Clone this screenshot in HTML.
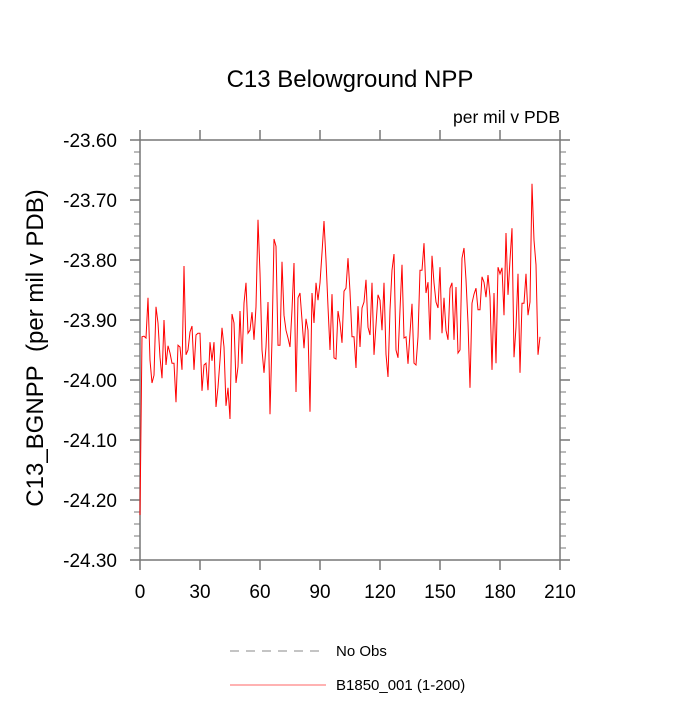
<!DOCTYPE html>
<html><head><meta charset="utf-8"><style>
body{margin:0;background:#fff;}
svg{font-family:"Liberation Sans",Arial,sans-serif;}
</style></head><body>
<svg id="chart" width="700" height="700" xmlns="http://www.w3.org/2000/svg">
<text x="350" y="87" text-anchor="middle" font-size="24">C13 Belowground NPP</text>
<text x="560" y="123" text-anchor="end" font-size="17.5">per mil v PDB</text>
<text transform="translate(43,348) rotate(-90)" text-anchor="middle" font-size="24">C13_BGNPP&#160;&#160;(per mil v PDB)</text>
<g id="axes"></g>
<g id="series"></g>
<g>
<line x1="230" y1="651" x2="326" y2="651" stroke="#888" stroke-dasharray="9,7"/>
<text x="336" y="656" font-size="15">No Obs</text>
<line x1="230" y1="685" x2="326" y2="685" stroke="#f33" stroke-width="0.8"/>
<text x="336" y="690" font-size="15">B1850_001 (1-200)</text>
</g>
</svg>
<script>
const xTicks=[0,30,60,90,120,150,180,210];
const yTicks=[-23.6,-23.7,-23.8,-23.9,-24.0,-24.1,-24.2,-24.3];
const yTickLabels=["-23.60","-23.70","-23.80","-23.90","-24.00","-24.10","-24.20","-24.30"];
const values=[-24.225,-23.928,-23.927,-23.930,-23.863,-23.967,-24.005,-23.992,-23.878,-23.905,
-23.962,-23.997,-23.900,-23.975,-23.943,-23.955,-23.972,-23.972,-24.037,-23.942,
-23.945,-23.983,-23.810,-23.958,-23.950,-23.920,-23.910,-23.983,-23.925,-23.922,
-23.922,-24.018,-23.975,-23.972,-24.017,-23.937,-23.968,-23.937,-24.045,-24.012,
-23.967,-23.913,-23.945,-24.043,-24.013,-24.065,-23.890,-23.905,-24.005,-23.978,
-23.885,-23.973,-23.872,-23.838,-23.922,-23.917,-23.887,-23.933,-23.878,-23.733,
-23.822,-23.950,-23.988,-23.945,-23.870,-24.057,-23.933,-23.765,-23.777,-23.942,
-23.942,-23.803,-23.892,-23.917,-23.930,-23.945,-23.883,-23.805,-24.020,-23.863,
-23.855,-23.900,-23.947,-23.898,-23.917,-24.053,-23.855,-23.905,-23.838,-23.867,
-23.838,-23.788,-23.735,-23.800,-23.878,-23.950,-23.857,-23.963,-23.965,-23.885,
-23.905,-23.938,-23.852,-23.847,-23.797,-23.853,-23.928,-23.928,-23.980,-23.877,
-23.945,-23.880,-23.870,-23.833,-23.912,-23.925,-23.838,-23.958,-23.908,-23.858,
-23.867,-23.917,-23.838,-23.957,-23.995,-23.883,-23.817,-23.790,-23.950,-23.963,
-23.883,-23.808,-23.930,-23.928,-23.973,-23.922,-23.873,-23.972,-23.975,-23.928,
-23.817,-23.817,-23.772,-23.855,-23.837,-23.933,-23.793,-23.838,-23.870,-23.880,
-23.812,-23.922,-23.863,-23.917,-23.933,-23.847,-23.838,-23.933,-23.845,-23.955,
-23.950,-23.797,-23.780,-23.833,-23.905,-24.013,-23.872,-23.857,-23.847,-23.883,
-23.883,-23.828,-23.837,-23.862,-23.825,-23.862,-23.983,-23.855,-23.972,-23.812,
-23.823,-23.813,-23.892,-23.755,-23.858,-23.800,-23.747,-23.962,-23.912,-23.823,
-23.988,-23.872,-23.872,-23.823,-23.892,-23.870,-23.673,-23.767,-23.808,-23.958,-23.928];
const X0=140,X1=560,Y0=140,Y1=560;
const xs=v=>X0+(v-0)/(210-0)*(X1-X0);
const ys=v=>Y0+(-23.6-v)/(0.7)*(Y1-Y0);
const NS="http://www.w3.org/2000/svg";
const axes=document.getElementById('axes');
function mk(tag,attrs,parent){const e=document.createElementNS(NS,tag);for(const k in attrs)e.setAttribute(k,attrs[k]);parent.appendChild(e);return e;}
const frame=mk('rect',{x:X0,y:Y0,width:X1-X0,height:Y1-Y0,fill:'none',stroke:'#777','stroke-width':1.5},axes);


const tc='#777';
xTicks.forEach(t=>{
 const x=xs(t);
 const b=mk('line',{x1:x,y1:Y1,x2:x,y2:Y1+10,stroke:tc,'stroke-width':1.5},axes);
 
 
 const tp=mk('line',{x1:x,y1:Y0,x2:x,y2:Y0-10,stroke:tc,'stroke-width':1.5},axes);
 
 
 const l=mk('text',{x:x,y:Y1+38,'text-anchor':'middle','font-size':19},axes);
 l.textContent=String(t);
 
 
});
yTicks.forEach((t,i)=>{
 const y=ys(t);
 const a=mk('line',{x1:X0-10,y1:y,x2:X0,y2:y,stroke:tc,'stroke-width':1.5},axes);
 
 
 const r=mk('line',{x1:X1,y1:y,x2:X1+10,y2:y,stroke:tc,'stroke-width':1.5},axes);
 
 
 const l=mk('text',{x:X0-23,y:y+7,'text-anchor':'end','font-size':19},axes);
 l.textContent=yTickLabels[i];
 
 
 if(i<yTicks.length-1){
  for(let k=1;k<5;k++){
   const yy=ys(t-0.02*k);
   const m=mk('line',{x1:X0-6,y1:yy,x2:X0,y2:yy,stroke:tc,'stroke-width':1},axes);
   
   
   const m2=mk('line',{x1:X1,y1:yy,x2:X1+6,y2:yy,stroke:tc,'stroke-width':1},axes);
   
   
  }
 }
});
const pts=values.map((v,i)=>xs(i)+','+ys(v)).join(' ');
const line=mk('polyline',{points:pts,fill:'none',stroke:'#f00','stroke-width':1},document.getElementById('series'));


</script>
</body></html>
